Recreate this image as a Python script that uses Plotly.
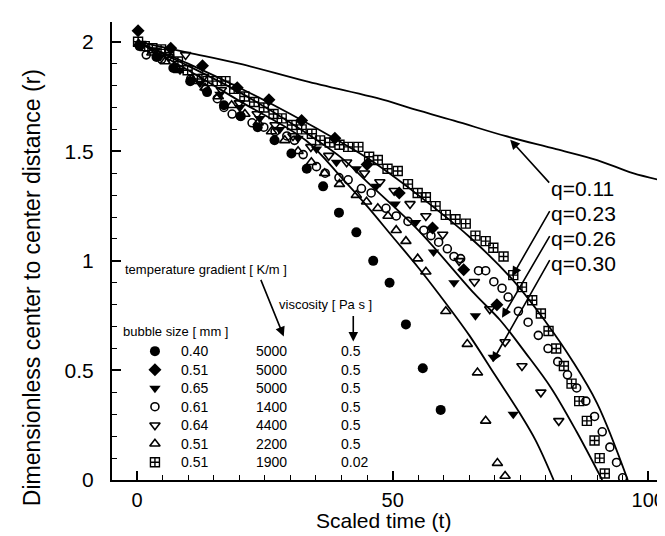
import plotly.graph_objects as go

# experimental series (scaled time t, dimensionless distance r)
t_fc = [0.5, 3.8, 7.1, 10.4, 13.7, 17.0, 20.3, 23.6, 26.9, 30.2, 33.2, 36.4, 39.5, 42.9, 46.2, 49.4, 52.6, 55.9, 59.4]
r_fc = [1.98, 1.93, 1.88, 1.82, 1.77, 1.71, 1.66, 1.61, 1.55, 1.49, 1.42, 1.34, 1.22, 1.13, 1.00, 0.90, 0.71, 0.51, 0.32]

t_fd = [0.2, 6.6, 12.8, 19.6, 25.8, 32.2, 38.7, 45.0, 51.3, 57.8, 63.9, 70.4]
r_fd = [2.05, 1.97, 1.89, 1.79, 1.735, 1.64, 1.56, 1.44, 1.31, 1.15, 0.96, 0.80]

t_ftd = [0.6, 4.5, 8.4, 12.3, 16.2, 20.1, 24.0, 27.9, 31.5, 35.1, 39.0, 42.9, 46.8, 50.5, 54.5, 58.0, 62.0, 66.2, 69.7, 73.6]
r_ftd = [1.98, 1.93, 1.87, 1.81, 1.76, 1.70, 1.65, 1.60, 1.56, 1.51, 1.45, 1.42, 1.34, 1.26, 1.175, 1.04, 0.90, 0.75, 0.56, 0.30]

t_oc = [1.8, 4.8, 7.5, 10.5, 13.4, 15.7, 17.0, 18.6, 20.2, 22.5, 24.8, 27.0, 29.3, 30.8, 32.5,
        35.1, 36.8, 39.5, 41.3, 43.9, 45.8, 48.7, 50.7, 53.0, 56.1, 57.5, 59.0, 60.7, 62.0, 63.3,
        66.8, 68.2, 69.8, 71.4, 72.6, 74.6, 76.5, 78.5, 80.4, 82.3, 84.2, 86.0, 87.8, 89.5, 91.0,
        92.5, 93.8, 95.0]
r_oc = [1.94, 1.92, 1.88, 1.83, 1.785, 1.74, 1.70, 1.67, 1.66, 1.63, 1.61, 1.59, 1.57, 1.55, 1.485,
        1.43, 1.40, 1.38, 1.37, 1.33, 1.31, 1.24, 1.205, 1.18, 1.14, 1.115, 1.085, 1.055, 1.02, 1.01,
        0.955, 0.955, 0.905, 0.875, 0.835, 0.77, 0.72, 0.66, 0.60, 0.54, 0.48, 0.42, 0.36, 0.29, 0.22,
        0.15, 0.08, 0.01]

t_otd = [0.8, 3.5, 6.2, 9.5, 13.0, 16.5, 20.0, 23.5, 27.0, 30.5, 34.0, 37.5, 41.0, 44.5, 47.5,
         50.3, 53.4, 56.5, 59.8, 63.0, 66.0, 69.0, 72.0, 75.3, 79.0, 82.5]
r_otd = [1.99, 1.96, 1.93, 1.94, 1.84, 1.78, 1.72, 1.67, 1.62, 1.57, 1.52, 1.48, 1.45, 1.40, 1.36,
         1.32, 1.26, 1.205, 1.12, 1.0, 0.905, 0.78, 0.63, 0.52, 0.40, 0.27]

t_otu = [0.3, 2.9, 5.5, 8.1, 10.7, 13.3, 15.9, 18.5, 21.1, 23.7, 26.3, 28.9, 31.5, 34.1, 36.7,
         39.6, 42.9, 44.9, 47.1, 49.1, 50.7, 52.6, 54.9, 56.5, 60.4, 64.6, 66.6, 68.2, 70.5, 72.0]
r_otu = [1.99, 1.95, 1.91, 1.87, 1.83, 1.79, 1.75, 1.71, 1.67, 1.63, 1.59, 1.55, 1.50, 1.45, 1.40,
         1.35, 1.30, 1.27, 1.24, 1.205, 1.14, 1.09, 1.01, 0.95, 0.77, 0.62, 0.49, 0.27, 0.077, 0.018]

t_sq = [0.2, 1.5, 3.0, 4.7, 6.3, 8.0, 9.9, 11.8, 13.8, 15.7, 17.3, 19.0, 21.0, 22.9, 24.8,
        26.7, 28.3, 30.3, 32.2, 34.2, 35.8, 37.7, 39.6, 41.3, 43.3, 45.4, 47.1, 49.0, 51.0, 53.0,
        54.9, 56.5, 58.4, 60.4, 62.3, 64.3, 66.2, 68.2, 69.7, 71.7, 73.6, 75.3, 77.3, 79.0, 80.5,
        82.0, 83.5, 85.0, 86.5, 88.0, 89.5, 90.5, 91.5]
r_sq = [2.0, 1.98, 1.97, 1.965, 1.95, 1.91, 1.87, 1.83, 1.82, 1.82, 1.82, 1.785, 1.75, 1.725, 1.70,
        1.67, 1.65, 1.62, 1.60, 1.58, 1.55, 1.54, 1.53, 1.52, 1.52, 1.475, 1.46, 1.42, 1.41, 1.35,
        1.31, 1.29, 1.25, 1.21, 1.19, 1.17, 1.115, 1.09, 1.06, 1.02, 0.935, 0.88, 0.82, 0.76, 0.68,
        0.60, 0.52, 0.44, 0.36, 0.27, 0.18, 0.10, 0.03]

# theory curves
t_q11 = [0, 10, 20, 33, 49, 53, 62, 72, 82, 90, 97, 103]
r_q11 = [2.0, 1.95, 1.90, 1.82, 1.73, 1.70, 1.64, 1.57, 1.51, 1.46, 1.40, 1.365]
t_q23 = [0, 10, 20, 30, 40, 45, 55, 65, 74, 80, 85, 90, 96]
r_q23 = [2.0, 1.90, 1.79, 1.67, 1.54, 1.47, 1.30, 1.11, 0.90, 0.72, 0.55, 0.35, 0.0]
t_q26 = [0, 10, 20, 30, 40, 45, 55, 66, 71, 76, 81, 86, 91]
r_q26 = [2.0, 1.89, 1.77, 1.63, 1.47, 1.36, 1.14, 0.85, 0.73, 0.58, 0.42, 0.22, 0.0]
t_q30 = [0, 10, 20, 33, 40, 45, 50, 55, 59, 65, 70, 75, 78, 81.5]
r_q30 = [2.0, 1.87, 1.73, 1.55, 1.38, 1.25, 1.11, 0.97, 0.85, 0.66, 0.48, 0.30, 0.18, 0.0]

# legend table
bubble_size = ["0.40", "0.51", "0.65", "0.61", "0.64", "0.51", "0.51"]
temp_grad = ["5000", "5000", "5000", "1400", "4400", "2200", "1900"]
viscosity = ["0.5", "0.5", "0.5", "0.5", "0.5", "0.5", "0.02"]

FONT = "Liberation Sans, Arial, sans-serif"

styles = [
    dict(symbol="circle", size=10, color="black"),
    dict(symbol="diamond", size=10, color="black"),
    dict(symbol="triangle-down", size=10, color="black"),
    dict(symbol="circle-open", size=8, color="black", line=dict(width=1.6, color="black")),
    dict(symbol="triangle-down-open", size=9, color="black", line=dict(width=1.6, color="black")),
    dict(symbol="triangle-up-open", size=9, color="black", line=dict(width=1.6, color="black")),
    dict(symbol="square-cross-open", size=9, color="black", line=dict(width=1.4, color="black")),
]
series = [(t_fc, r_fc), (t_fd, r_fd), (t_ftd, r_ftd), (t_oc, r_oc),
          (t_otd, r_otd), (t_otu, r_otu), (t_sq, r_sq)]

fig = go.Figure()

for tt, rr in [(t_q11, r_q11), (t_q23, r_q23), (t_q26, r_q26), (t_q30, r_q30)]:
    fig.add_trace(go.Scatter(x=tt, y=rr, mode="lines", line=dict(color="black", width=1.8, shape="spline"),
                             showlegend=False, hoverinfo="skip"))

for (tt, rr), st in zip(series, styles):
    fig.add_trace(go.Scatter(x=tt, y=rr, mode="markers", marker=st, showlegend=False))

# legend table inside the plot
row0 = 0.588
step = 0.0845
rows_y = [row0 - i * step for i in range(len(bubble_size))]
for i, st in enumerate(styles):
    fig.add_trace(go.Scatter(x=[3.5], y=[rows_y[i]], mode="markers", marker=st,
                             showlegend=False, cliponaxis=False))

ann = []
def txt(x, y, s, size=13):
    ann.append(dict(x=x, y=y, text=s, showarrow=False, xanchor="left", yanchor="middle",
                    font=dict(family=FONT, size=size, color="black")))

for i in range(len(bubble_size)):
    txt(8.3, rows_y[i], bubble_size[i], size=14)
    txt(22.9, rows_y[i], temp_grad[i], size=14)
    txt(39.6, rows_y[i], viscosity[i], size=14)

txt(-2.7, 0.96, "temperature gradient [ K/m ]")
txt(27.4, 0.80, "viscosity [ Pa s ]")
txt(-3.1, 0.677, "bubble size [ mm ]")

def arrow(x, y, ax, ay):
    ann.append(dict(x=x, y=y, ax=ax, ay=ay, axref="x", ayref="y", xref="x", yref="y",
                    text="", showarrow=True, arrowhead=2, arrowsize=1.2, arrowwidth=1.6,
                    arrowcolor="black"))

arrow(28.7, 0.655, 24.1, 0.92)
arrow(42.3, 0.632, 42.3, 0.755)

# q labels with pointers
q_labels = ["q=0.11", "q=0.23", "q=0.26", "q=0.30"]
q_label_y = [1.33, 1.214, 1.10, 0.99]
q_tips = [(73.0, 1.553), (73.4, 0.93), (71.4, 0.74), (69.5, 0.54)]
for lab, ly, (tx, ty) in zip(q_labels, q_label_y, q_tips):
    txt(80.6, ly, lab, size=21)
    arrow(tx, ty, 80.9, ly + 0.02)

# axis titles
ann.append(dict(xref="paper", yref="paper", x=0.495, y=-0.088, text="Scaled time (t)",
                showarrow=False, xanchor="center", yanchor="middle",
                font=dict(family=FONT, size=21, color="black")))
ann.append(dict(xref="paper", yref="paper", x=-0.1465, y=0.42,
                text="Dimensionless center to center distance (r)", textangle=-90,
                showarrow=False, xanchor="center", yanchor="middle",
                font=dict(family=FONT, size=23, color="black")))

fig.update_layout(
    width=665, height=536,
    margin=dict(l=104, r=8, t=14, b=64),
    plot_bgcolor="white", paper_bgcolor="white",
    font=dict(family=FONT, color="black"),
    annotations=ann,
    xaxis=dict(range=[-4.9, 102.5], showgrid=False, zeroline=False,
               showline=True, linecolor="black", linewidth=2,
               ticks="inside", ticklen=9, tickwidth=1.5, tickcolor="black",
               tickvals=[0, 50, 100], ticktext=["0", "50", "100"],
               minor=dict(ticks="inside", ticklen=5, tickwidth=1.2, tickcolor="black", dtick=5),
               tickfont=dict(size=20), ticklabelstandoff=1),
    yaxis=dict(range=[0, 2.09], showgrid=False, zeroline=False,
               showline=True, linecolor="black", linewidth=2,
               ticks="inside", ticklen=9, tickwidth=1.5, tickcolor="black",
               tickvals=[0, 0.5, 1, 1.5, 2], ticktext=["0", "0.5", "1", "1.5", "2"],
               minor=dict(ticks="inside", ticklen=5, tickwidth=1.2, tickcolor="black", dtick=0.1),
               tickfont=dict(size=21), ticklabelstandoff=12),
)

fig.write_html("out.html")
